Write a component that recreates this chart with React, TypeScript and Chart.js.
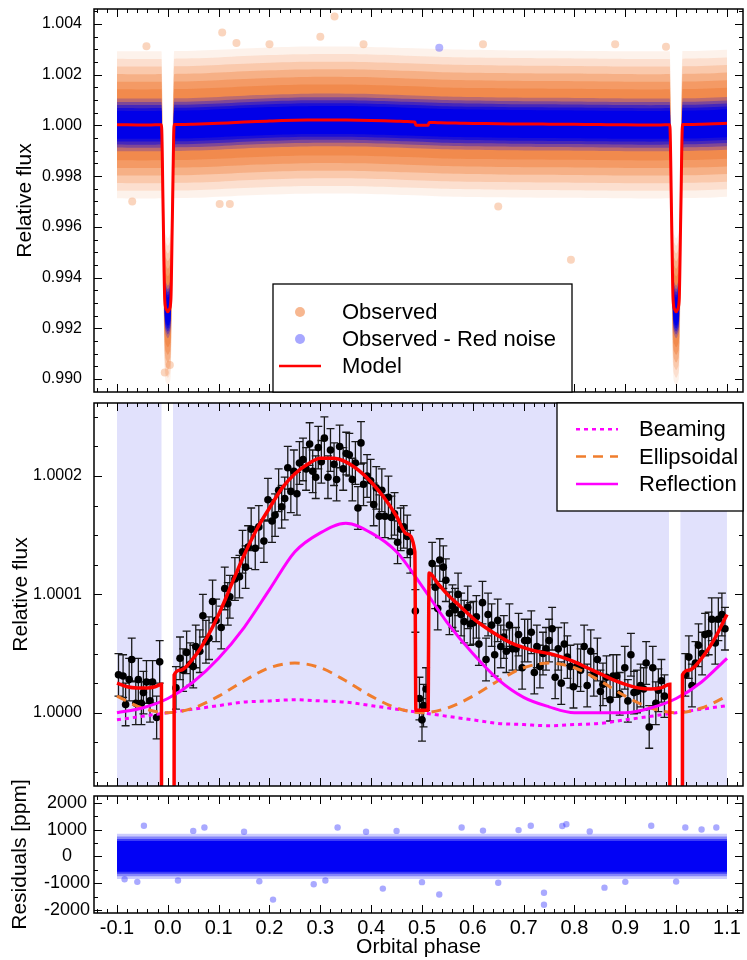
import React, { useEffect, useRef } from 'react';
import { Chart, registerables } from 'chart.js';
Chart.register(...registerables);

const FONT = '"Liberation Sans", Arial, Helvetica, sans-serif';

// ---------------- axis ticks ----------------
const phaseTicks = [-0.1, 0.0, 0.1, 0.2, 0.3, 0.4, 0.5, 0.6, 0.7, 0.8, 0.9, 1.0, 1.1];
const fluxTicks = [0.990, 0.992, 0.994, 0.996, 0.998, 1.000, 1.002, 1.004];
const zoomTicksPpm = [0, 100, 200];
const residTicks = [-2000, -1000, 0, 1000, 2000];

// ---------------- model (ppm relative to 1) ----------------
const modelPhase = [
  -0.1, -0.08, -0.06, -0.04, -0.025, -0.0125,
  -0.009, -0.006, -0.003, 0.0, 0.003, 0.006, 0.009,
  0.0125, 0.025, 0.05, 0.075, 0.1, 0.125, 0.15, 0.175, 0.2, 0.225, 0.25, 0.275, 0.3, 0.325, 0.35, 0.375, 0.4, 0.425, 0.45, 0.47, 0.486,
  0.488, 0.512,
  0.514, 0.53, 0.55, 0.575, 0.6, 0.625, 0.65, 0.675, 0.7, 0.725, 0.75, 0.775, 0.8, 0.825, 0.85, 0.875, 0.9, 0.925, 0.95, 0.97, 0.9875,
  0.991, 0.994, 0.997, 1.0, 1.003, 1.006, 1.009,
  1.0125, 1.025, 1.05, 1.075, 1.1,
];
const modelPpm = [
  25, 22, 21, 21, 22, 24,
  -3600, -6880, -7250, -7350, -7250, -6880, -3600,
  32, 36, 46, 62, 83, 108, 133, 155, 173, 190, 202, 210, 215, 215, 212, 205, 195, 182, 166, 151, 136,
  2, 2,
  118, 110, 100, 90, 80, 72, 65, 59, 55, 52, 50, 47, 43, 38, 33, 28, 24, 21, 20, 21, 24,
  -3600, -6880, -7250, -7350, -7250, -6880, -3600,
  32, 36, 46, 62, 83,
];
// the shallow secondary eclipse is hidden in the scatter clouds of the top panel
const secondaryEclipse = [0.487, 0.513];

// ---------------- model components (ppm) ----------------
const compPhase = [-0.1, -0.05, 0.0, 0.05, 0.1, 0.15, 0.2, 0.25, 0.3, 0.35, 0.4, 0.45, 0.5, 0.55, 0.6, 0.65, 0.7, 0.75, 0.8, 0.85, 0.9, 0.95, 1.0, 1.05, 1.1];
const beamingPpm = [-6, -3, 0, 3, 6, 9, 10, 11, 10, 9, 6, 3, 0, -3, -6, -9, -10, -11, -10, -9, -6, -3, 0, 3, 6];
const ellipsoidalPpm = [14, 4, 0, 4, 14, 27, 38, 42, 38, 27, 14, 4, 0, 4, 14, 27, 38, 42, 38, 27, 14, 4, 0, 4, 14];
const reflectionPpm = [0, 4, 12, 26, 46, 72, 104, 136, 152, 160, 152, 136, 107, 76, 50, 28, 13, 5, 0, 0, 0, 4, 12, 26, 46];

// ---------------- binned data (ppm) ----------------
const binPhase = [
  -0.097, -0.088, -0.083, -0.076, -0.071, -0.063, -0.058, -0.052, -0.048, -0.042, -0.035, -0.030, -0.022, -0.016,
  0.016, 0.024, 0.030, 0.037, 0.044, 0.050, 0.055, 0.063, 0.069, 0.075, 0.081, 0.088, 0.095, 0.105, 0.112, 0.118, 0.122,
  0.132, 0.141, 0.147, 0.153, 0.158, 0.164, 0.172, 0.179, 0.189, 0.197, 0.205, 0.211, 0.218, 0.224, 0.230, 0.236, 0.242,
  0.248, 0.254, 0.259, 0.266, 0.272, 0.279, 0.285, 0.291, 0.296, 0.302, 0.308, 0.315, 0.320, 0.327, 0.332, 0.338, 0.345,
  0.351, 0.357, 0.363, 0.369, 0.374, 0.380, 0.385, 0.392, 0.399, 0.405, 0.410, 0.416, 0.421, 0.427, 0.434, 0.440, 0.446,
  0.452, 0.458, 0.464, 0.471, 0.477, 0.487, 0.495, 0.500, 0.503, 0.508,
  0.520, 0.526, 0.531, 0.535, 0.542, 0.547, 0.554, 0.560, 0.565, 0.571, 0.577, 0.583, 0.590, 0.595, 0.601, 0.607, 0.612,
  0.619, 0.626, 0.630, 0.637, 0.643, 0.649, 0.655, 0.661, 0.666, 0.672, 0.678, 0.685, 0.690, 0.697, 0.702, 0.708, 0.715,
  0.721, 0.726, 0.732, 0.738, 0.744, 0.750, 0.756, 0.762, 0.768, 0.774, 0.780, 0.786, 0.792, 0.798, 0.806, 0.812, 0.819,
  0.825, 0.832, 0.838, 0.845, 0.851, 0.856, 0.863, 0.870, 0.876, 0.883, 0.889, 0.899, 0.905, 0.911, 0.917, 0.923, 0.930,
  0.936, 0.941, 0.947, 0.954, 0.960, 0.965, 0.971, 0.977,
  1.018, 1.025, 1.031, 1.038, 1.044, 1.051, 1.057, 1.064, 1.070, 1.077, 1.083, 1.090, 1.096,
];
const binPpm = [
  32, 31, 7, 28, 45, 8, 28, 8, 17, 26, 10, 26, -4, 43,
  21, 46, 36, 51, 41, 39, 56, 52, 82, 60, 63, 94, 78, 72, 105, 92, 98,
  113, 115, 136, 123, 140, 155, 139, 157, 145, 180, 162, 167, 188, 174, 181, 207, 187,
  204, 185, 211, 214, 206, 227, 204, 199, 224, 212, 232, 199, 222, 210, 197, 225, 206,
  219, 218, 197, 211, 173, 228, 193, 200, 196, 176, 190, 166, 188, 166, 182, 165, 168,
  144, 155, 157, 149, 136, 86, 12, -6, 6, 20,
  126, 106, 88, 129, 123, 112, 84, 90, 87, 100, 83, 77, 89, 75, 76, 81, 58,
  93, 45, 83, 74, 49, 78, 56, 64, 52, 74, 54, 54, 66, 38, 61, 61, 68,
  34, 56, 39, 50, 54, 61, 71, 30, 54, 25, 58, 47, 39, 22, 40, 36, 56,
  23, 52, 32, 45, 18, 24, 30, 11, 31, 31, 16, 38, 10, 49, 17, 18, 23,
  20, 42, -12, 38, 8, 19, 27, 14,
  32, 47, 23, 42, 57, 50, 66, 67, 79, 59, 79, 83, 71,
];
const binErrPpm = 18;

// pale scatter coverage in the zoom panel (phase spans out of primary eclipse)
const cloudSpanStart = [-0.1, 0.01, 1.008];
const cloudSpanEnd = [-0.012, 0.986, 1.1];

// ---------------- top panel scatter envelopes (flux half-widths, outer -> inner) ----------------
const observedSpread = [0.0029, 0.0026, 0.0023, 0.0020, 0.0017, 0.0014];
const observedAlpha = [0.1, 0.16, 0.23, 0.32, 0.42, 0.52];
const cleanedSpread = [0.00104, 0.0009, 0.00078, 0.00066, 0.00055];
const cleanedAlpha = [0.22, 0.32, 0.45, 0.6, 0.96];
const obsOutPhase = [0.328, 0.107, 0.135, -0.042, 0.102, 0.122, 0.793, -0.006, 0.004, 0.30, 0.385, 0.62, 0.88, 0.2, 0.65, 0.98, -0.07];
const obsOutFlux = [1.0043, 1.00366, 1.00325, 1.00312, 0.9969, 0.9969, 0.9947, 0.99026, 0.99055, 1.0035, 1.0032, 1.0032, 1.0032, 1.0032, 0.9968, 1.0031, 0.9970];
const cleanOutPhase = [0.534];
const cleanOutFlux = [1.00306];

// ---------------- residuals ----------------
const residSpread = [840, 740, 650, 570];
const residAlpha = [0.2, 0.35, 0.55, 0.97];
const resOutPhase = [-0.085, -0.047, 0.02, 0.072, 0.207, 0.287, 0.334, 0.423, 0.534, 0.578, 0.714, 0.74, 0.74, 0.784, 0.776, 0.859, 0.951, 1.018, 1.079, -0.06, 0.15, 0.65, 0.9, 1.05, 0.45, 0.31, 0.62, 0.05, 0.18, 0.39, 0.5, 0.69, 0.83, 1.0];
const resOutPpm = [-850, 1140, -900, 1075, -1610, -1040, 1075, -1200, -1420, 1075, 1140, -1357, -1805, 1200, 1130, -1165, 1140, 1075, 1075, -950, 920, -980, -950, 1000, 950, -900, 960, 950, -930, 920, -960, 980, 930, -940];

// ---------------- colors ----------------
const RED = '#ff0000';
const MAGENTA = '#ff00ff';
const ORANGE = 'rgb(240,125,45)';

const X_MIN = -0.1452;
const X_MAX = 1.1315;

const toFlux = (ppm: number) => 1 + ppm * 1e-6;

function frameTicksPlugin(yMajor: number[], yMinorStep: number) {
  return {
    id: 'frameTicks',
    afterDraw(chart: any) {
      const { ctx, chartArea: a, scales } = chart;
      const xs = scales.x;
      const ys = scales.y;
      ctx.save();
      ctx.strokeStyle = '#000';
      ctx.lineWidth = 1;
      ctx.beginPath();
      const xTick = (v: number, len: number) => {
        const px = Math.round(xs.getPixelForValue(v)) + 0.5;
        if (px < a.left || px > a.right) return;
        ctx.moveTo(px, a.bottom);
        ctx.lineTo(px, a.bottom - len);
        ctx.moveTo(px, a.top);
        ctx.lineTo(px, a.top + len);
      };
      const yTick = (v: number, len: number) => {
        const py = Math.round(ys.getPixelForValue(v)) + 0.5;
        if (py < a.top || py > a.bottom) return;
        ctx.moveTo(a.left, py);
        ctx.lineTo(a.left + len, py);
        ctx.moveTo(a.right, py);
        ctx.lineTo(a.right - len, py);
      };
      const xStep = 0.02;
      for (let i = Math.ceil(xs.min / xStep - 1e-9); i * xStep <= xs.max + 1e-9; i++) xTick(i * xStep, 4);
      phaseTicks.forEach((v) => xTick(v, 8));
      for (let i = Math.ceil(ys.min / yMinorStep - 1e-9); i * yMinorStep <= ys.max + 1e-12; i++) yTick(i * yMinorStep, 4);
      yMajor.forEach((v) => yTick(v, 8));
      ctx.stroke();
      ctx.lineWidth = 1.5;
      ctx.strokeRect(a.left, a.top, a.right - a.left, a.bottom - a.top);
      ctx.restore();
    },
  };
}

type LegendItem = { label: string; kind: 'dot' | 'line'; color: string; dash?: number[]; width?: number };
function boxLegendPlugin(cfg: {
  left: number; top: number | null; right: number | null; bottom: number | null;
  firstY: number; gap: number; symX0: number; symX1: number; textX: number; items: LegendItem[];
}) {
  return {
    id: 'boxLegend',
    afterDraw(chart: any) {
      const { ctx, chartArea: a } = chart;
      const l = cfg.left;
      const t = cfg.top == null ? a.top : cfg.top;
      const r = cfg.right == null ? a.right : cfg.right;
      const b = cfg.bottom == null ? a.bottom : cfg.bottom;
      ctx.save();
      ctx.fillStyle = '#fff';
      ctx.fillRect(l, t, r - l, b - t);
      ctx.strokeStyle = '#000';
      ctx.lineWidth = 1.3;
      ctx.strokeRect(l, t, r - l, b - t);
      cfg.items.forEach((it, i) => {
        const cy = cfg.firstY + i * cfg.gap;
        if (it.kind === 'dot') {
          ctx.fillStyle = it.color;
          ctx.beginPath();
          ctx.arc((cfg.symX0 + cfg.symX1) / 2, cy, 5, 0, Math.PI * 2);
          ctx.fill();
        } else {
          ctx.strokeStyle = it.color;
          ctx.lineWidth = it.width || 2.5;
          ctx.setLineDash(it.dash || []);
          ctx.beginPath();
          ctx.moveTo(cfg.symX0, cy);
          ctx.lineTo(cfg.symX1, cy);
          ctx.stroke();
          ctx.setLineDash([]);
        }
        ctx.fillStyle = '#000';
        ctx.font = `22px ${FONT}`;
        ctx.textAlign = 'left';
        ctx.textBaseline = 'middle';
        ctx.fillText(it.label, cfg.textX, cy + 1);
      });
      ctx.restore();
    },
  };
}

function errorBarPlugin(datasetIndex: number) {
  return {
    id: 'errorBars',
    beforeDatasetDraw(chart: any, args: any) {
      if (args.index !== datasetIndex) return;
      const { ctx, chartArea: a, scales } = chart;
      const xs = scales.x;
      const ys = scales.y;
      ctx.save();
      ctx.beginPath();
      ctx.rect(a.left, a.top, a.right - a.left, a.bottom - a.top);
      ctx.clip();
      ctx.strokeStyle = '#1a1a1a';
      ctx.lineWidth = 1.3;
      ctx.beginPath();
      binPhase.forEach((p, i) => {
        const px = xs.getPixelForValue(p);
        const yt = ys.getPixelForValue(binPpm[i] + binErrPpm);
        const yb = ys.getPixelForValue(binPpm[i] - binErrPpm);
        ctx.moveTo(px, yt);
        ctx.lineTo(px, yb);
        ctx.moveTo(px - 4, yt);
        ctx.lineTo(px + 4, yt);
        ctx.moveTo(px - 4, yb);
        ctx.lineTo(px + 4, yb);
      });
      ctx.stroke();
      ctx.restore();
    },
  };
}

function yScale(min: number, max: number, ticks: number[], fmt: (v: number) => string, size: number, pad: number, title: string, titlePad: number, crossAlign = 'near') {
  return {
    type: 'linear',
    min,
    max,
    afterFit: (s: any) => { s.width = 94; s.paddingTop = 0; s.paddingBottom = 0; },
    afterBuildTicks: (s: any) => { s.ticks = ticks.map((v) => ({ value: v })); },
    grid: { display: false, drawTicks: false },
    border: { display: false },
    ticks: { callback: (v: any) => fmt(Number(v)), font: { family: FONT, size }, color: '#000', padding: pad, crossAlign, autoSkip: false },
    title: { display: true, text: title, font: { family: FONT, size: 21 }, color: '#000', padding: { top: titlePad, bottom: 0 } },
  };
}

const hiddenX = { type: 'linear', min: X_MIN, max: X_MAX, display: false };

function band(xs: number[], ys: number[], half: number, color: string, order: number, monotone = true) {
  const common: any = { borderWidth: 0, pointRadius: 0, order };
  if (monotone) common.cubicInterpolationMode = 'monotone';
  return [
    { ...common, data: xs.map((x, i) => ({ x, y: ys[i] + half })), fill: '+1', backgroundColor: color },
    { ...common, data: xs.map((x, i) => ({ x, y: ys[i] - half })), fill: false },
  ];
}

function topConfig(): any {
  const fluxModel = modelPpm.map(toFlux);
  // scatter-cloud centre line: the model without the (invisible) secondary eclipse
  const keep = modelPhase.map((p) => !(p > secondaryEclipse[0] - 0.002 && p < secondaryEclipse[1] + 0.002));
  const cloudX = modelPhase.filter((_, i) => keep[i]);
  const cloudY = fluxModel.filter((_, i) => keep[i]);
  const datasets: any[] = [];
  observedSpread.forEach((w, k) => datasets.push(...band(cloudX, cloudY, w, `rgba(240,125,55,${observedAlpha[k]})`, 40 - k)));
  cleanedSpread.forEach((w, k) => datasets.push(...band(cloudX, cloudY, w, `rgba(0,0,232,${cleanedAlpha[k]})`, 30 - k)));
  datasets.push(
    { data: obsOutPhase.map((x, i) => ({ x, y: obsOutFlux[i] })), showLine: false, pointRadius: 4, pointBorderWidth: 0, pointBackgroundColor: 'rgba(242,135,70,0.35)', order: 20 },
    { data: cleanOutPhase.map((x, i) => ({ x, y: cleanOutFlux[i] })), showLine: false, pointRadius: 4, pointBorderWidth: 0, pointBackgroundColor: 'rgba(40,40,255,0.35)', order: 19 },
    { data: modelPhase.map((x, i) => ({ x, y: fluxModel[i] })), borderColor: RED, borderWidth: 3, pointRadius: 0, fill: false, cubicInterpolationMode: 'monotone', order: 1 },
  );
  return {
    type: 'line',
    data: { datasets },
    options: {
      animation: false, responsive: false, maintainAspectRatio: false, events: [],
      layout: { padding: { top: 9, bottom: 8, left: 0, right: 4 } },
      plugins: { legend: { display: false }, tooltip: { enabled: false } },
      scales: {
        x: hiddenX,
        y: yScale(0.989487, 1.004591, fluxTicks, (v) => v.toFixed(3), 16, 12, 'Relative flux', 12.4),
      },
    },
    plugins: [
      frameTicksPlugin(fluxTicks, 0.0005),
      boxLegendPlugin({
        left: 273, top: 284, right: 572, bottom: null, firstY: 312, gap: 27, symX0: 279, symX1: 321, textX: 342,
        items: [
          { label: 'Observed', kind: 'dot', color: 'rgba(242,135,70,0.6)' },
          { label: 'Observed - Red noise', kind: 'dot', color: 'rgba(60,60,255,0.45)' },
          { label: 'Model', kind: 'line', color: RED, width: 2.5 },
        ],
      }),
    ],
  };
}

function midConfig(): any {
  const datasets: any[] = [];
  cloudSpanStart.forEach((s, i) => {
    datasets.push({ data: [{ x: s, y: 400 }, { x: cloudSpanEnd[i], y: 400 }], borderWidth: 0, pointRadius: 0, fill: 'start', backgroundColor: 'rgba(40,40,235,0.14)', order: 20 });
  });
  const pointsIndex = datasets.length;
  datasets.push({ data: binPhase.map((x, i) => ({ x, y: binPpm[i] })), showLine: false, pointRadius: 3.8, pointBorderWidth: 0, pointBackgroundColor: '#000', order: 6 });
  datasets.push({ data: compPhase.map((x, i) => ({ x, y: beamingPpm[i] })), borderColor: MAGENTA, borderWidth: 3, borderDash: [4, 4], pointRadius: 0, fill: false, cubicInterpolationMode: 'monotone', order: 5 });
  datasets.push({ data: compPhase.map((x, i) => ({ x, y: ellipsoidalPpm[i] })), borderColor: ORANGE, borderWidth: 3, borderDash: [10, 7], pointRadius: 0, fill: false, cubicInterpolationMode: 'monotone', order: 4 });
  datasets.push({ data: compPhase.map((x, i) => ({ x, y: reflectionPpm[i] })), borderColor: MAGENTA, borderWidth: 3, pointRadius: 0, fill: false, cubicInterpolationMode: 'monotone', order: 3 });
  datasets.push({ data: modelPhase.map((x, i) => ({ x, y: modelPpm[i] })), borderColor: RED, borderWidth: 3.5, pointRadius: 0, fill: false, cubicInterpolationMode: 'monotone', order: 1 });
  return {
    type: 'line',
    data: { datasets },
    options: {
      animation: false, responsive: false, maintainAspectRatio: false, events: [],
      layout: { padding: { top: 8, bottom: 4, left: 0, right: 4 } },
      plugins: { legend: { display: false }, tooltip: { enabled: false } },
      scales: {
        x: hiddenX,
        y: yScale(-61.9, 261.7, zoomTicksPpm, (v) => (1 + v * 1e-6).toFixed(4), 16, 12, 'Relative flux', 9.1),
      },
    },
    plugins: [
      errorBarPlugin(pointsIndex),
      frameTicksPlugin(zoomTicksPpm, 25),
      boxLegendPlugin({
        left: 557, top: null, right: null, bottom: 116, firstY: 34.3, gap: 27.3, symX0: 576, symX1: 618, textX: 639,
        items: [
          { label: 'Beaming', kind: 'line', color: MAGENTA, dash: [4, 4], width: 2.5 },
          { label: 'Ellipsoidal', kind: 'line', color: ORANGE, dash: [10, 7], width: 2.5 },
          { label: 'Reflection', kind: 'line', color: MAGENTA, width: 2.5 },
        ],
      }),
    ],
  };
}

function botConfig(): any {
  const edges = [-0.1, 1.1];
  const zero = [0, 0];
  const datasets: any[] = [];
  residSpread.forEach((w, k) => datasets.push(...band(edges, zero, w, `rgba(0,0,245,${residAlpha[k]})`, 30 - k, false)));
  datasets.push({ data: resOutPhase.map((x, i) => ({ x, y: resOutPpm[i] })), showLine: false, pointRadius: 3.2, pointBorderWidth: 0, pointBackgroundColor: 'rgba(40,40,255,0.4)', order: 20 });
  return {
    type: 'line',
    data: { datasets },
    options: {
      animation: false, responsive: false, maintainAspectRatio: false, events: [],
      layout: { padding: { top: 36, bottom: 0, left: 0, right: 4 } },
      plugins: { legend: { display: false }, tooltip: { enabled: false } },
      scales: {
        x: {
          type: 'linear', min: X_MIN, max: X_MAX,
          afterFit: (s: any) => { s.height = 47; s.paddingLeft = 0; s.paddingRight = 0; },
          afterBuildTicks: (s: any) => { s.ticks = phaseTicks.map((v) => ({ value: v })); },
          grid: { display: false, drawTicks: false },
          border: { display: false },
          ticks: { callback: (v: any) => Number(v).toFixed(1), font: { family: FONT, size: 20 }, color: '#000', padding: 3, autoSkip: false, maxRotation: 0 },
          title: { display: true, text: 'Orbital phase', font: { family: FONT, size: 21 }, color: '#000', padding: { top: 0, bottom: 0 } },
        },
        y: yScale(-2110, 2250, residTicks, (v) => String(Math.round(v)), 18, 4, 'Residuals [ppm]', 7.4, 'center'),
      },
    },
    plugins: [frameTicksPlugin(residTicks, 500)],
  };
}

export default function App() {
  const r1 = useRef<HTMLCanvasElement>(null);
  const r2 = useRef<HTMLCanvasElement>(null);
  const r3 = useRef<HTMLCanvasElement>(null);
  useEffect(() => {
    const charts = [
      new Chart(r1.current as HTMLCanvasElement, topConfig()),
      new Chart(r2.current as HTMLCanvasElement, midConfig()),
      new Chart(r3.current as HTMLCanvasElement, botConfig()),
    ];
    return () => charts.forEach((c) => c.destroy());
  }, []);
  const cs = (top: number, h: number): React.CSSProperties => ({ position: 'absolute', left: 0, top, width: 747, height: h, display: 'block' });
  return (
    <div style={{ position: 'absolute', left: 0, top: 0, width: 747, height: 960, background: '#fff' }}>
      <canvas ref={r1} width={747} height={400} style={cs(0, 400)} />
      <canvas ref={r2} width={747} height={395} style={cs(395, 395)} />
      <canvas ref={r3} width={747} height={200} style={cs(760, 200)} />
    </div>
  );
}
